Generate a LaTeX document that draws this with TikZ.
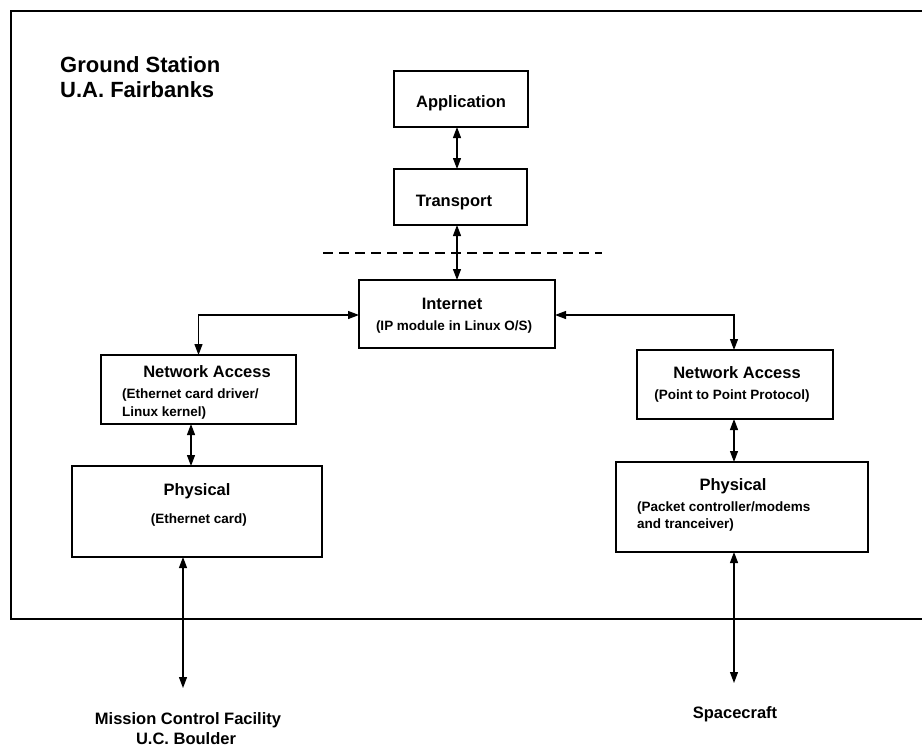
\documentclass[tikz,border=0pt]{standalone}
\usepackage{fontspec}
\setmainfont{Liberation Sans}
\usetikzlibrary{arrows.meta}

\tikzset{
  box/.style={draw, line width=1.6pt, rectangle, inner sep=0pt, outer sep=0pt},
  head/.style={inner sep=0pt, anchor=base, font=\bfseries\fontsize{16.5}{18}\selectfont},
  sub/.style={inner sep=0pt, anchor=base, font=\bfseries\fontsize{13.5}{17}\selectfont},
  subleft/.style={sub, anchor=base west},
  titletext/.style={inner sep=0pt, anchor=base west, font=\bfseries\fontsize{22}{25}\selectfont},
  link/.style={line width=1.2pt, {Triangle[length=11pt,width=8pt]}-{Triangle[length=11pt,width=8pt]}},
  frame/.style={line width=2.6pt}
}

\begin{document}
\begin{tikzpicture}[x=1pt, y=-1pt]
  \useasboundingbox (0,0) rectangle (922,748);

  % ground station enclosure (open on the right)
  \draw[frame] (930,11) -- (11,11) -- (11,619) -- (930,619);

  \node[titletext] (gs1) at (60,72) {Ground Station};
  \node[titletext] (gs2) at (60,97) {U.A. Fairbanks};

  % protocol layers
  \node[box, minimum width=134, minimum height=56] (app)   at (461,99)    {};
  \node[box, minimum width=133, minimum height=56] (trans) at (460.5,197) {};
  \node[box, minimum width=196, minimum height=68] (inet)  at (457,314)   {};
  \node[box, minimum width=195, minimum height=69] (lna)   at (198.5,389.5) {};
  \node[box, minimum width=250, minimum height=91] (lphys) at (197,511.5) {};
  \node[box, minimum width=196, minimum height=69] (rna)   at (735,384.5) {};
  \node[box, minimum width=252, minimum height=90] (rphys) at (742,507)   {};

  % layer labels
  \node[head] (appT)   at (461,107) {Application};
  \node[head] (transT) at (454,206) {Transport};
  \node[head] (inetT)  at (452,309) {Internet};
  \node[sub]  (inetS)  at (454,330) {(IP module in Linux O/S)};
  \node[head] (lnaT)   at (207,377) {Network Access};
  \node[subleft] (lnaS1) at (122,398) {(Ethernet card driver/};
  \node[subleft] (lnaS2) at (122,416) {Linux kernel)};
  \node[head] (lphysT) at (197,495) {Physical};
  \node[sub]  (lphysS) at (199,523) {(Ethernet card)};
  \node[head] (rnaT)   at (737,378) {Network Access};
  \node[sub]  (rnaS)   at (732,399) {(Point to Point Protocol)};
  \node[head] (rphysT) at (733,490) {Physical};
  \node[subleft] (rphysS1) at (637,511) {(Packet controller/modems};
  \node[subleft] (rphysS2) at (637,528) {and tranceiver)};

  % external endpoints
  \coordinate (mcf) at (183,688);
  \coordinate (sc)  at (734,683);
  \node[head] (mcfT1) at (188,724) {Mission Control Facility};
  \node[head] (mcfT2) at (186,744) {U.C. Boulder};
  \node[head] (scT)   at (735,718) {Spacecraft};

  % boundary between host layers and network layers
  \coordinate (dashL) at (323,253);
  \coordinate (dashR) at (602,253);
  \draw[line width=1.2pt, dash pattern=on 10pt off 6pt] (dashL) -- (dashR);

  % connectors
  \draw[link] ([xshift=-4pt]app.south) -- ([xshift=-4pt]app.south |- trans.north);
  \draw[link] (inet.north |- trans.south) -- (inet.north);
  \draw[link] ([yshift=-1pt]inet.west) -| (lna.north);
  \draw[link] ([yshift=-1pt]inet.east) -| ([xshift=-1pt]rna.north);
  \draw[link] ([xshift=-7.5pt]lna.south) -- ([xshift=-7.5pt]lna.south |- lphys.north);
  \draw[link] ([xshift=-1pt]rna.south) -- ([xshift=-1pt]rna.south |- rphys.north);
  \draw[link] (mcf |- lphys.south) -- (mcf);
  \draw[link] (sc |- rphys.south) -- (sc);
\end{tikzpicture}
\end{document}
